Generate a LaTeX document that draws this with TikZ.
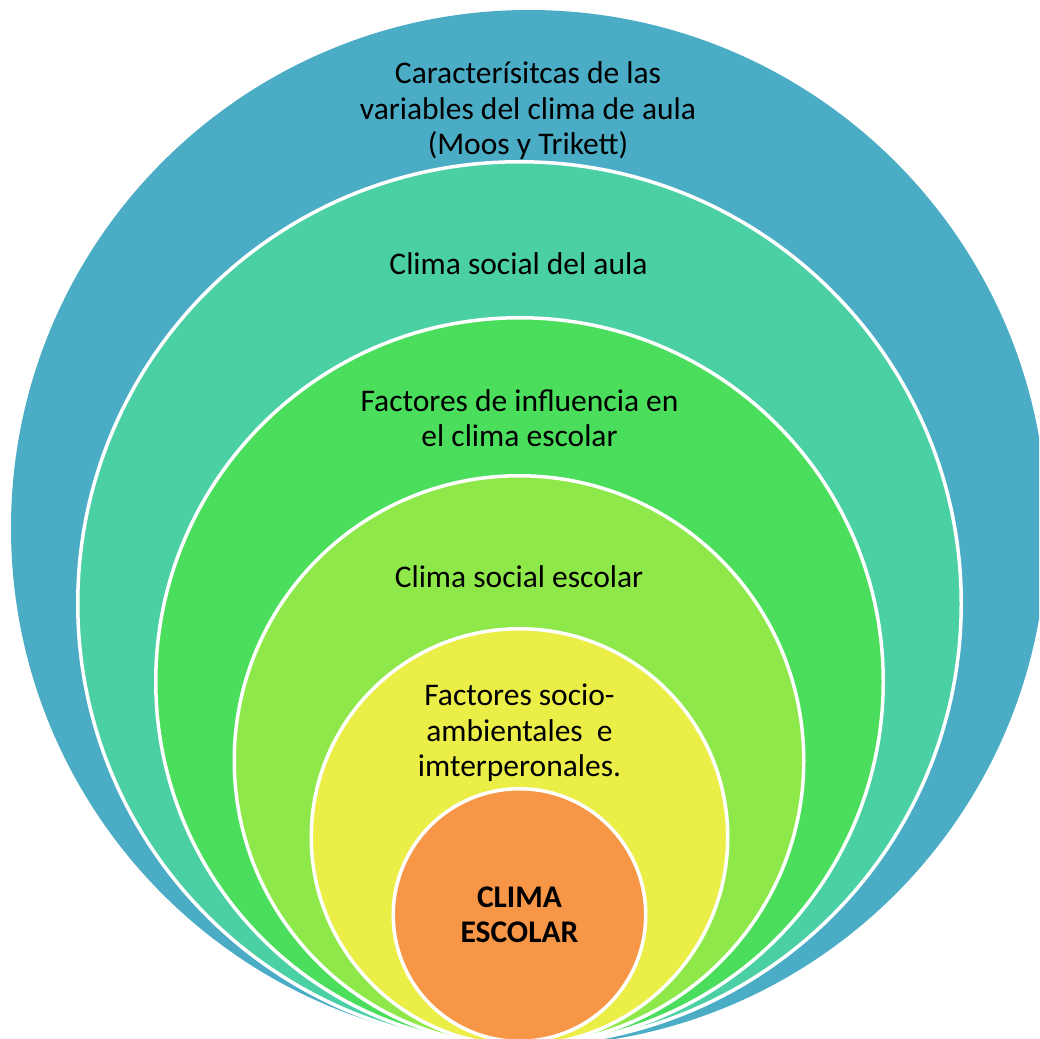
\documentclass[tikz,border=0pt]{standalone}
\usepackage{fontspec}
\setmainfont{Carlito}
\definecolor{cblue}{HTML}{4BACC6}
\definecolor{cteal}{HTML}{4BD0A5}
\definecolor{cgreen}{HTML}{4ADE5C}
\definecolor{clgreen}{HTML}{8FE849}
\definecolor{cyellow}{HTML}{ECEE48}
\definecolor{corange}{HTML}{F79646}
\begin{document}
\begin{tikzpicture}[x=1pt,y=-1pt,
  ring/.style={circle, inner sep=0pt, outer sep=0pt, draw=white, line width=3.5pt},
  lbl/.style={align=center, font=\fontsize{31.5}{35.5}\selectfont, inner sep=0pt, text=black}]
\useasboundingbox (0,0) rectangle (1039,1039);
\clip (0,0) rectangle (1039,1039);
\node[ring, draw=none, fill=cblue, minimum size=1036pt] (c1) at (529,528) {};
\node[ring, fill=cteal, minimum size=883.5pt] (c2) at (519.5,603.5) {};
\node[ring, fill=cgreen, minimum size=727.5pt] (c3) at (519.5,681.5) {};
\node[ring, fill=clgreen, minimum size=569.5pt] (c4) at (519,760.5) {};
\node[ring, fill=cyellow, minimum size=416.5pt] (c5) at (519.5,837) {};
\node[ring, fill=corange, minimum size=252.5pt] (c6) at (519.5,915) {};
\node[lbl] (t1) at (528,111) {Caracterísitcas de las\\variables del clima de aula\\(Moos y Trikett)};
\node[lbl] (t2) at (518.5,264) {Clima social del aula};
\node[lbl] (t3) at (519.5,418) {Factores de influencia en\\el clima escolar};
\node[lbl] (t4) at (519,577) {Clima social escolar};
\node[lbl] (t5) at (519.5,733) {Factores socio-\\ambientales\ \ e\\imterperonales.};
\node[lbl, font=\fontsize{31.5}{35.5}\selectfont\bfseries] (t6) at (519.5,915) {CLIMA\\ESCOLAR};
\end{tikzpicture}
\end{document}
